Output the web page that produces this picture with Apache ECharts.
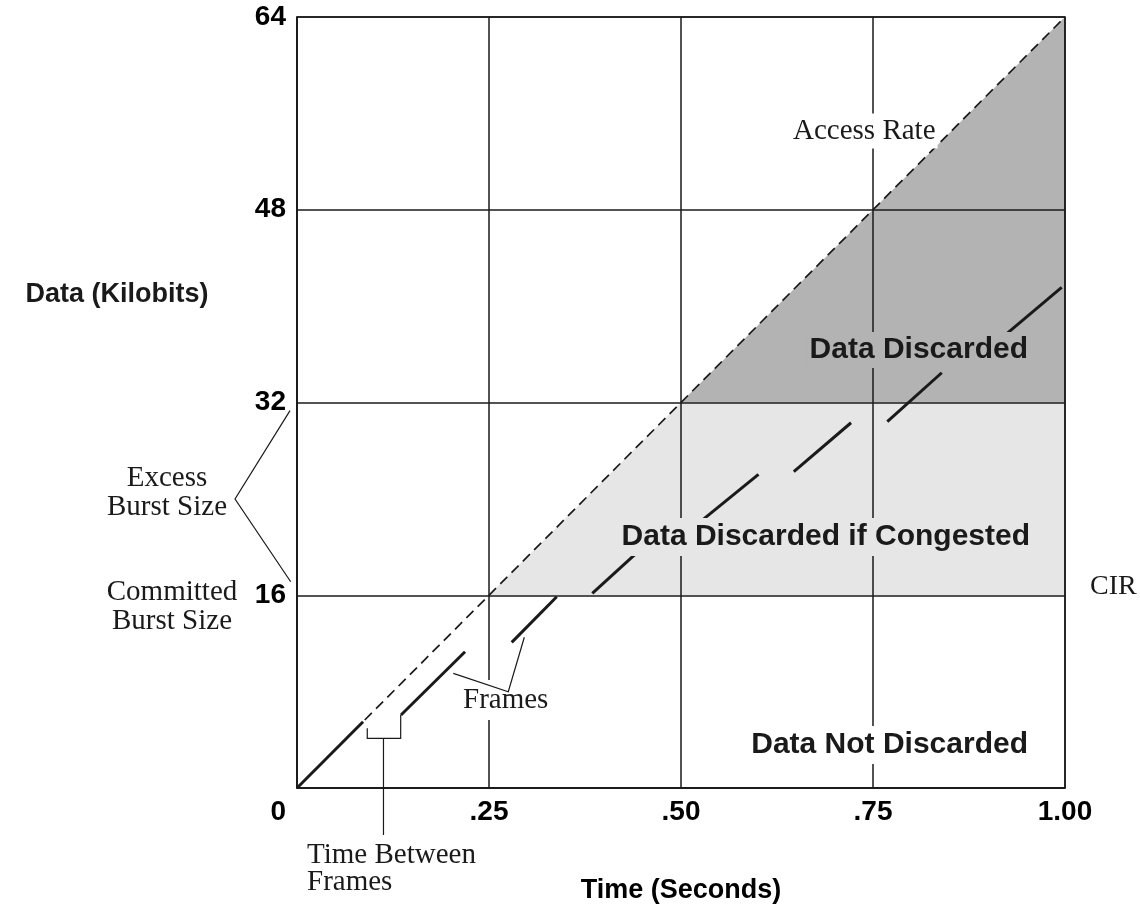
<!DOCTYPE html>
<html>
<head>
<meta charset="utf-8">
<script src="https://cdn.jsdelivr.net/npm/echarts@6/dist/echarts.min.js"></script>
<style>
html,body{margin:0;padding:0;background:#fff;}
#chart{width:1140px;height:920px;}
</style>
</head>
<body>
<div id="chart"></div>
<script>
// ---- data ----
const timeTicks = [0, 0.25, 0.5, 0.75, 1.0];
const timeTickLabels = ['0', '.25', '.50', '.75', '1.00'];
const dataTicks = [0, 16, 32, 48, 64];
const dataTickLabels = ['0', '16', '32', '48', '64'];

// Access rate line (time s, kilobits)
const accessRateLine = [[0, 0], [1, 64]];

// CIR line drawn as individual frames (start/end points)
const cirFrames = [
  [[0, 0], [0.086, 5.5]],
  [[0.1354, 6.06], [0.2188, 11.31]],
  [[0.2796, 12.09], [0.3382, 15.88]],
  [[0.3845, 16.16], [0.4427, 19.53]],
  [[0.5253, 22.11], [0.6009, 26.04]],
  [[0.6469, 26.26], [0.7214, 30.32]],
  [[0.7686, 30.41], [0.8395, 34.47]],
  [[0.9219, 37.60], [0.9957, 41.56]]
];

// shaded regions (vertices)
const regionDiscardIfCongested = [[0.25, 16], [0.5, 32], [1, 32], [1, 16]];
const regionDiscarded = [[0.5, 32], [1, 64], [1, 32]];

// annotation leader lines (data coordinates)
const burstBracket = [[-0.0091, 31.32], [-0.0807, 23.99], [-0.0082, 17.12]];
const framesPointer = [[0.2035, 9.52], [0.2751, 7.99], [0.2960, 12.51]];
const timeBetweenBracket = [[0.0915, 4.955], [0.0915, 4.125], [0.135, 4.125], [0.135, 6.06]];
const timeBetweenStem = [[0.1126, 4.125], [0.1126, -3.9]];

// ---- chart ----
const SERIF = '"Liberation Serif", "Times New Roman", serif';
const SANS = '"Liberation Sans", Arial, sans-serif';
const INK = '#1a1a1a';

const chart = echarts.init(document.getElementById('chart'), null, {renderer: 'canvas'});

const regions = [regionDiscardIfCongested, regionDiscarded];
const regionColors = ['#e6e6e6', '#b3b3b3'];
const leaders = [burstBracket, framesPointer, timeBetweenBracket, timeBetweenStem];

const series = [
  {
    type: 'custom', z: 1, silent: true, animation: false, clip: false,
    data: regions.map(r => r[0]),
    renderItem: function (params, api) {
      const pts = regions[params.dataIndex].map(p => api.coord(p));
      return {type: 'polygon', shape: {points: pts}, style: {fill: regionColors[params.dataIndex]}};
    }
  },
  {
    type: 'line', data: accessRateLine, symbol: 'none', z: 5, silent: true, animation: false,
    lineStyle: {color: INK, width: 1.7, type: [10, 6]}
  },
  {
    type: 'custom', z: 6, silent: true, animation: false, clip: false,
    data: leaders.map(l => l[l.length - 1]),
    renderItem: function (params, api) {
      const pts = leaders[params.dataIndex].map(p => api.coord(p));
      return {type: 'polyline', shape: {points: pts}, style: {stroke: INK, lineWidth: 1.2, fill: null}};
    }
  }
];
cirFrames.forEach(seg => {
  series.push({
    type: 'line', data: seg, symbol: 'none', z: 5, silent: true, animation: false,
    lineStyle: {color: INK, width: 3, cap: 'butt'}
  });
});

function txt(text, x, y, opts, z) {
  return {
    type: 'text', x: x, y: y, z: z == null ? 100 : z, silent: true,
    style: Object.assign({text: text, fill: INK}, opts)
  };
}

const option = {
  animation: false,
  backgroundColor: '#fff',
  grid: {left: 297, top: 17, width: 768, height: 771, show: true, borderColor: INK, borderWidth: 1.5, backgroundColor: 'transparent', z: 3},
  xAxis: {
    type: 'value', min: 0, max: 1, interval: 0.25, z: 3,
    axisLine: {show: true, lineStyle: {color: INK, width: 1.5}},
    axisTick: {show: false},
    splitLine: {show: true, lineStyle: {color: INK, width: 1.5}},
    axisLabel: {
      show: true, showMinLabel: false, margin: 9,
      fontFamily: SANS, fontWeight: 'bold', fontSize: 28, lineHeight: 30, color: '#000',
      formatter: v => { const i = timeTicks.findIndex(t => Math.abs(t - v) < 1e-6); return i >= 0 ? timeTickLabels[i] : ''; }
    },
    name: 'Time (Seconds)', nameLocation: 'middle', nameGap: 89,
    nameTextStyle: {fontFamily: SANS, fontWeight: 'bold', fontSize: 27, color: '#000'}
  },
  yAxis: {
    type: 'value', min: 0, max: 64, interval: 16, z: 3,
    axisLine: {show: true, lineStyle: {color: INK, width: 1.5}},
    axisTick: {show: false},
    splitLine: {show: true, lineStyle: {color: INK, width: 1.5}},
    axisLabel: {
      show: true, margin: 11,
      fontFamily: SANS, fontWeight: 'bold', fontSize: 28, color: '#000',
      formatter: v => {
        const i = dataTicks.indexOf(v);
        if (i === 0) return '{z|' + dataTickLabels[0] + '}';
        return i >= 0 ? dataTickLabels[i] : '';
      },
      rich: {z: {fontFamily: SANS, fontWeight: 'bold', fontSize: 28, color: '#000', padding: [48, 0, 0, 0]}}
    }
  },
  series: series,
  graphic: [
    txt('Data (Kilobits)', 117, 295, {font: 'bold 27px ' + SANS, align: 'center', verticalAlign: 'middle'}),
    txt('Access Rate', 791, 131, {font: '29px ' + SERIF, align: 'left', verticalAlign: 'middle', backgroundColor: '#fff', padding: [3, 2, 3, 2]}),
    txt('Data Discarded', 1030, 350, {font: 'bold 30px ' + SANS, align: 'right', verticalAlign: 'middle', backgroundColor: '#b3b3b3', padding: [3, 2, 3, 2]}),
    txt('Data Discarded if Congested', 1032, 537, {font: 'bold 30px ' + SANS, align: 'right', verticalAlign: 'middle', backgroundColor: '#e6e6e6', padding: [4, 2, 4, 2]}),
    txt('Data Not Discarded', 1030, 745, {font: 'bold 30px ' + SANS, align: 'right', verticalAlign: 'middle', backgroundColor: '#fff', padding: [4, 2, 4, 2]}),
    txt('Frames', 461, 700, {font: '29px ' + SERIF, align: 'left', verticalAlign: 'middle', backgroundColor: '#fff', padding: [8, 2, 3, 2]}, 4),
    txt('Excess\nBurst Size', 167, 493, {font: '29px ' + SERIF, align: 'center', verticalAlign: 'middle', lineHeight: 29}),
    txt('Committed\nBurst Size', 172, 607, {font: '29px ' + SERIF, align: 'center', verticalAlign: 'middle', lineHeight: 29}),
    txt('CIR', 1090, 587, {font: '28px ' + SERIF, align: 'left', verticalAlign: 'middle'}),
    txt('Time Between\nFrames', 307, 869, {font: '29px ' + SERIF, align: 'left', verticalAlign: 'middle', lineHeight: 27})
  ]
};
chart.setOption(option);
</script>
</body>
</html>
